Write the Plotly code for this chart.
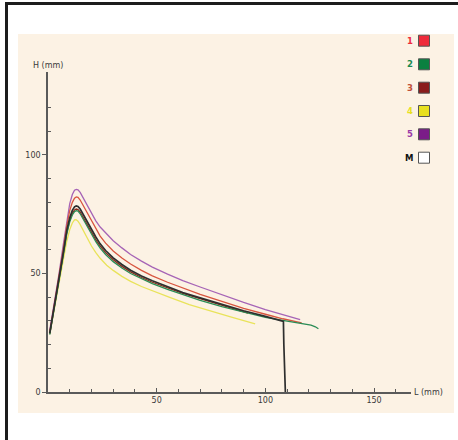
import plotly.graph_objects as go

# Profile curves: length L (mm) vs height H (mm)
L1 = [0.8, 3, 5.1, 7, 8.6, 10, 11.2, 12.2, 13, 13.8, 14.8, 16, 18, 20, 22, 24, 26.5, 30, 34, 38, 43, 48, 55, 62, 70, 80, 90, 100, 108, 116.7]
H1 = [25, 37, 48.5, 60, 70, 76.5, 80, 81.8, 82.3, 82.1, 81, 79, 75.5, 72, 68.8, 65.8, 62.8, 59.5, 56.5, 54, 51.3, 49, 46.3, 43.8, 41.2, 38.2, 35.3, 32.8, 30.9, 29.2]

L2 = [0.8, 3, 5.1, 7, 8.6, 10, 11.2, 12.2, 13, 13.8, 14.8, 16, 18, 20, 22, 24, 26.5, 30, 34, 38, 43, 48, 55, 62, 70, 80, 90, 100, 110, 117, 121, 123, 124.4]
H2 = [24.2, 35.5, 46.5, 57.5, 66.5, 71.8, 74.7, 76.1, 76.5, 76.3, 75.2, 73.2, 69.8, 66.5, 63.4, 60.7, 58, 55, 52.3, 50, 47.7, 45.7, 43.3, 41, 38.7, 36, 33.6, 31.5, 29.9, 29, 28.2, 27.5, 26.7]

L3 = [0.8, 3, 5.1, 7, 8.6, 10, 11.2, 12.2, 13, 13.8, 14.8, 16, 18, 20, 22, 24, 26.5, 30, 34, 38, 43, 48, 55, 62, 70, 80, 92]
H3 = [24.5, 36, 47, 58, 67, 72.5, 75.4, 76.8, 77.2, 77, 75.9, 73.9, 70.5, 67.3, 64.2, 61.5, 58.8, 55.8, 53, 50.7, 48.3, 46.3, 43.9, 41.6, 39.4, 36.6, 33.3]

L4 = [0.8, 3, 5.1, 7, 8.6, 10, 11.2, 12.2, 12.9, 13.7, 14.7, 16, 18, 20, 22, 24, 27, 30, 34, 38, 43, 48, 56, 65, 75, 84, 95.3]
H4 = [24.5, 35, 45.5, 55.5, 63.5, 68.5, 71.3, 72.6, 72.7, 72.2, 70.8, 68.4, 64.8, 61.6, 58.8, 56.4, 53.5, 51.3, 48.8, 46.7, 44.5, 42.6, 39.9, 36.9, 34, 31.7, 28.7]

L5 = [0.8, 3, 5.1, 7, 8.6, 10, 11.2, 12.2, 13, 13.8, 14.8, 16, 18, 20, 22, 24, 26.5, 30, 34, 38, 43, 48, 55, 62, 70, 80, 90, 100, 108, 116]
H5 = [26, 38, 50, 62, 72.5, 79.5, 83.3, 85.1, 85.5, 85.3, 84.2, 82.2, 78.6, 75.2, 72.2, 69.6, 67, 63.8, 60.8, 58, 55.2, 52.7, 49.7, 47, 44.3, 41, 37.8, 34.8, 32.6, 30.5]

LM = [0.8, 3, 5.1, 7, 8.6, 10, 11.2, 12.2, 13, 13.8, 14.8, 16, 18, 20, 22, 24, 26.5, 30, 34, 38, 43, 48, 55, 62, 70, 80, 90, 100, 108.3, 108.5, 108.8, 109.2]
HM = [24.8, 36.5, 47.5, 58.5, 68, 73.5, 76.6, 78.1, 78.5, 78.3, 77.2, 75.2, 71.8, 68.5, 65.4, 62.5, 59.7, 56.6, 53.8, 51.4, 48.9, 46.9, 44.4, 42, 39.7, 36.9, 34.3, 31.9, 29.8, 20, 10, 0]

names = ["1", "2", "3", "4", "5", "M"]
line_colors = ["#D8553F", "#2A8C55", "#8B2A1A", "#E9E35A", "#A664B6", "#2E2E2E"]
swatch_colors = ["#EE2B3B", "#0A8040", "#8A1C1C", "#E8E020", "#7B1C88", "#FFFFFF"]
label_colors = ["#EE2B3B", "#1A8A50", "#C0503A", "#E8E020", "#9A3AA8", "#111111"]

x_ticks = [50, 100, 150]
y_ticks = [0, 50, 100]
x_minor = [10, 20, 30, 40, 60, 70, 80, 90, 110, 120, 130, 140, 160]
y_minor = [10, 20, 30, 40, 60, 70, 80, 90, 110, 120]

series = [(L4, H4, 3), (L5, H5, 4), (L1, H1, 0), (L3, H3, 2), (L2, H2, 1), (LM, HM, 5)]

W, H = 458, 440
ML, MR, MT, MB = 48, 47, 72, 48
PW, PH = W - ML - MR, H - MT - MB


def px_x(p):
    return (p - ML) / PW


def px_y(p):
    return (H - MB - p) / PH


fig = go.Figure()
for xs, ys, i in series:
    fig.add_trace(go.Scatter(
        x=xs, y=ys, mode="lines", name=names[i],
        line=dict(color=line_colors[i], width=1.7 if names[i] == "M" else 1.3),
        showlegend=False, hoverinfo="skip",
    ))

shapes = [
    # cream panel
    dict(type="rect", xref="paper", yref="paper", x0=px_x(18), x1=px_x(454), y0=px_y(413), y1=px_y(34),
         fillcolor="#FCF2E4", line=dict(width=0), layer="below"),
    # outer frame
    dict(type="line", xref="paper", yref="paper", x0=px_x(6.5), x1=px_x(6.5), y0=px_y(2), y1=px_y(440),
         line=dict(color="#1C1C1C", width=3)),
    dict(type="line", xref="paper", yref="paper", x0=px_x(5), x1=px_x(458), y0=px_y(3.5), y1=px_y(3.5),
         line=dict(color="#1C1C1C", width=3)),
]

annotations = [
    dict(text="H (mm)", xref="paper", yref="paper", x=px_x(47.5), y=px_y(66), showarrow=False,
         font=dict(family="DejaVu Sans", size=8, color="#3A3A3A"), xanchor="center", yanchor="middle"),
    dict(text="L (mm)", xref="paper", yref="paper", x=px_x(412), y=px_y(392), showarrow=False,
         font=dict(family="DejaVu Sans", size=8, color="#3A3A3A"), xanchor="left", yanchor="middle"),
]

# key on the right: label then colour swatch
key_y = [40.7, 64.3, 87.7, 111, 134.3, 157.7]
for i, name in enumerate(names):
    cy = key_y[i]
    shapes.append(dict(type="rect", xref="paper", yref="paper",
                       x0=px_x(418.5), x1=px_x(429.5), y0=px_y(cy + 5.5), y1=px_y(cy - 5.5),
                       fillcolor=swatch_colors[i], line=dict(color="#555555", width=1)))
    annotations.append(dict(text="<b>%s</b>" % name, xref="paper", yref="paper", x=px_x(414.5), y=px_y(cy),
                            showarrow=False, xanchor="right", yanchor="middle",
                            font=dict(family="DejaVu Sans", size=8.5, color=label_colors[i])))

axis_font = dict(family="DejaVu Sans", size=8, color="#3A3A3A")
fig.update_layout(
    width=W, height=H, autosize=False,
    margin=dict(l=ML, r=MR, t=MT, b=MB, pad=0),
    paper_bgcolor="#FFFFFF", plot_bgcolor="rgba(0,0,0,0)",
    shapes=shapes, annotations=annotations, showlegend=False,
    xaxis=dict(range=[0, 167], tickmode="array", tickvals=x_ticks, ticks="inside", ticklen=4,
               tickcolor="#5A5A5A", tickfont=axis_font, showgrid=False, zeroline=False,
               showline=True, linecolor="#5A5A5A", linewidth=1.5,
               minor=dict(tickmode="array", tickvals=x_minor, ticks="inside", ticklen=3, tickcolor="#5A5A5A",
                          showgrid=False)),
    yaxis=dict(range=[0, 135], tickmode="array", tickvals=y_ticks, ticks="outside", ticklen=4,
               tickcolor="#5A5A5A", tickfont=axis_font, showgrid=False, zeroline=False,
               showline=True, linecolor="#5A5A5A", linewidth=1.5,
               minor=dict(tickmode="array", tickvals=y_minor, ticks="inside", ticklen=3, tickcolor="#5A5A5A",
                          showgrid=False)),
)

fig.write_html("out.html", config={"displayModeBar": False})
